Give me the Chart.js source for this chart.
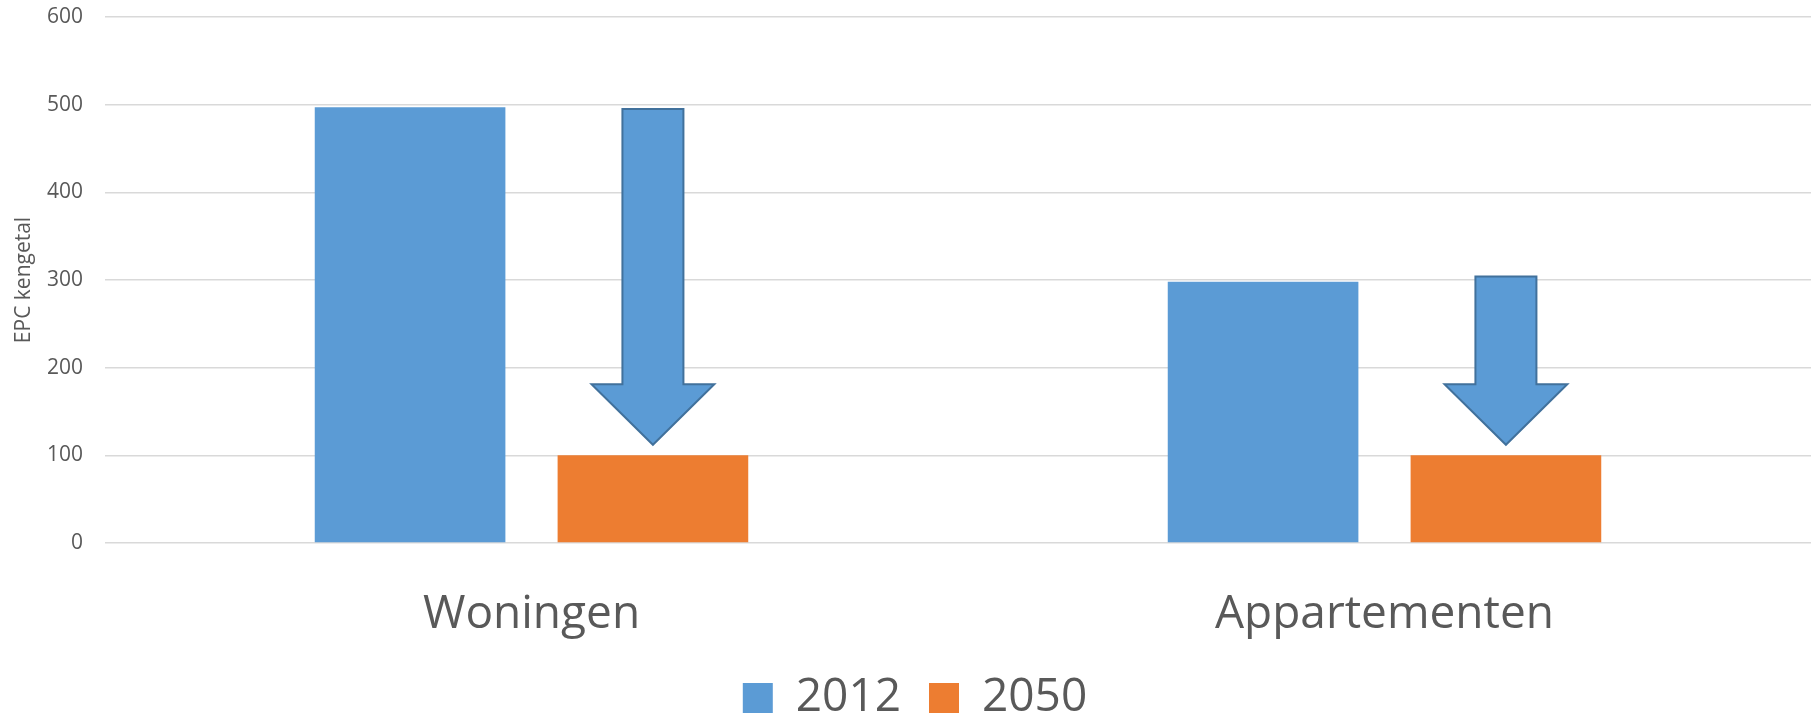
<!DOCTYPE html>
<html>
<head>
<meta charset="utf-8">
<title>EPC kengetal</title>
<script src="https://cdn.jsdelivr.net/npm/chart.js@4.4.0/dist/chart.umd.min.js"></script>
<style>
  html, body { margin: 0; padding: 0; background: #fff; }
  #wrap { width: 1820px; height: 719px; }
</style>
</head>
<body>
<div id="wrap"><canvas id="chart" width="1820" height="719"></canvas></div>
<script>
// data
const categories = ['Woningen', 'Appartementen'];
const seriesNames = ['2012', '2050'];
const values2012 = [497, 298];
const values2050 = [100, 100];
const yMin = 0, yMax = 600, yStep = 100;

// arrows: top of shaft, base of the head, tip (in EPC units)
const arrowTop = [495, 304];
const arrowHeadBase = [181, 181];
const arrowTip = [112, 112];

const BLUE = '#5B9BD5', ORANGE = '#ED7D31', TEXT = '#595959';

// draws the down arrows above the 2050 bars
const arrowPlugin = {
  id: 'arrows',
  afterDatasetsDraw(chart){
    const ctx = chart.ctx;
    const y = chart.scales.y;
    const meta = chart.getDatasetMeta(1);
    ctx.save();
    ctx.fillStyle = BLUE;
    ctx.strokeStyle = '#41719C';
    ctx.lineWidth = 2;
    ctx.lineJoin = 'miter';
    meta.data.forEach((bar, i) => {
      const cx = bar.x;
      const shaft = bar.width * 0.16, head = bar.width * 0.322;
      const yTop = y.getPixelForValue(arrowTop[i]);
      const yBase = y.getPixelForValue(arrowHeadBase[i]);
      const yTip = y.getPixelForValue(arrowTip[i]);
      ctx.beginPath();
      ctx.moveTo(cx - shaft, yTop);
      ctx.lineTo(cx + shaft, yTop);
      ctx.lineTo(cx + shaft, yBase);
      ctx.lineTo(cx + head, yBase);
      ctx.lineTo(cx, yTip);
      ctx.lineTo(cx - head, yBase);
      ctx.lineTo(cx - shaft, yBase);
      ctx.closePath();
      ctx.fill();
      ctx.stroke();
    });
    ctx.restore();
  }
};

const ctx = document.getElementById('chart').getContext('2d');
new Chart(ctx, {
  type: 'bar',
  data: {
    labels: categories,
    datasets: [
      {label: seriesNames[0], data: values2012, backgroundColor: BLUE, borderWidth: 0},
      {label: seriesNames[1], data: values2050, backgroundColor: ORANGE, borderWidth: 0}
    ]
  },
  options: {
    responsive: false,
    animation: false,
    categoryPercentage: 0.5694,
    barPercentage: 0.785,
    layout: {padding: {top: 17, right: 9, left: 19, bottom: -12}},
    plugins: {
      tooltip: {enabled: false},
      legend: {
        position: 'bottom',
        labels: {
          boxWidth: 30, boxHeight: 30, padding: 28,
          color: TEXT,
          font: {family: '"Open Sans"', size: 46}
        }
      }
    },
    scales: {
      x: {
        grid: {display: false, drawTicks: false},
        border: {display: false},
        ticks: {color: TEXT, padding: 44, font: {family: '"Open Sans"', size: 46}},
        afterFit(scale){ scale.height = 104; }
      },
      y: {
        min: yMin, max: yMax,
        grid: {color: '#D9D9D9', lineWidth: 1.5, drawTicks: false},
        border: {display: false},
        ticks: {stepSize: yStep, color: TEXT, padding: 22, font: {family: '"Open Sans"', size: 21}},
        title: {display: true, text: 'EPC kengetal', color: TEXT, padding: {top: -8, bottom: 0}, font: {family: '"Open Sans"', size: 21}},
        afterFit(scale){
          scale.width = 86;
          scale.paddingTop = 0;
          scale.paddingBottom = 0;
        }
      }
    }
  },
  plugins: [arrowPlugin]
});
</script>
</body>
</html>
